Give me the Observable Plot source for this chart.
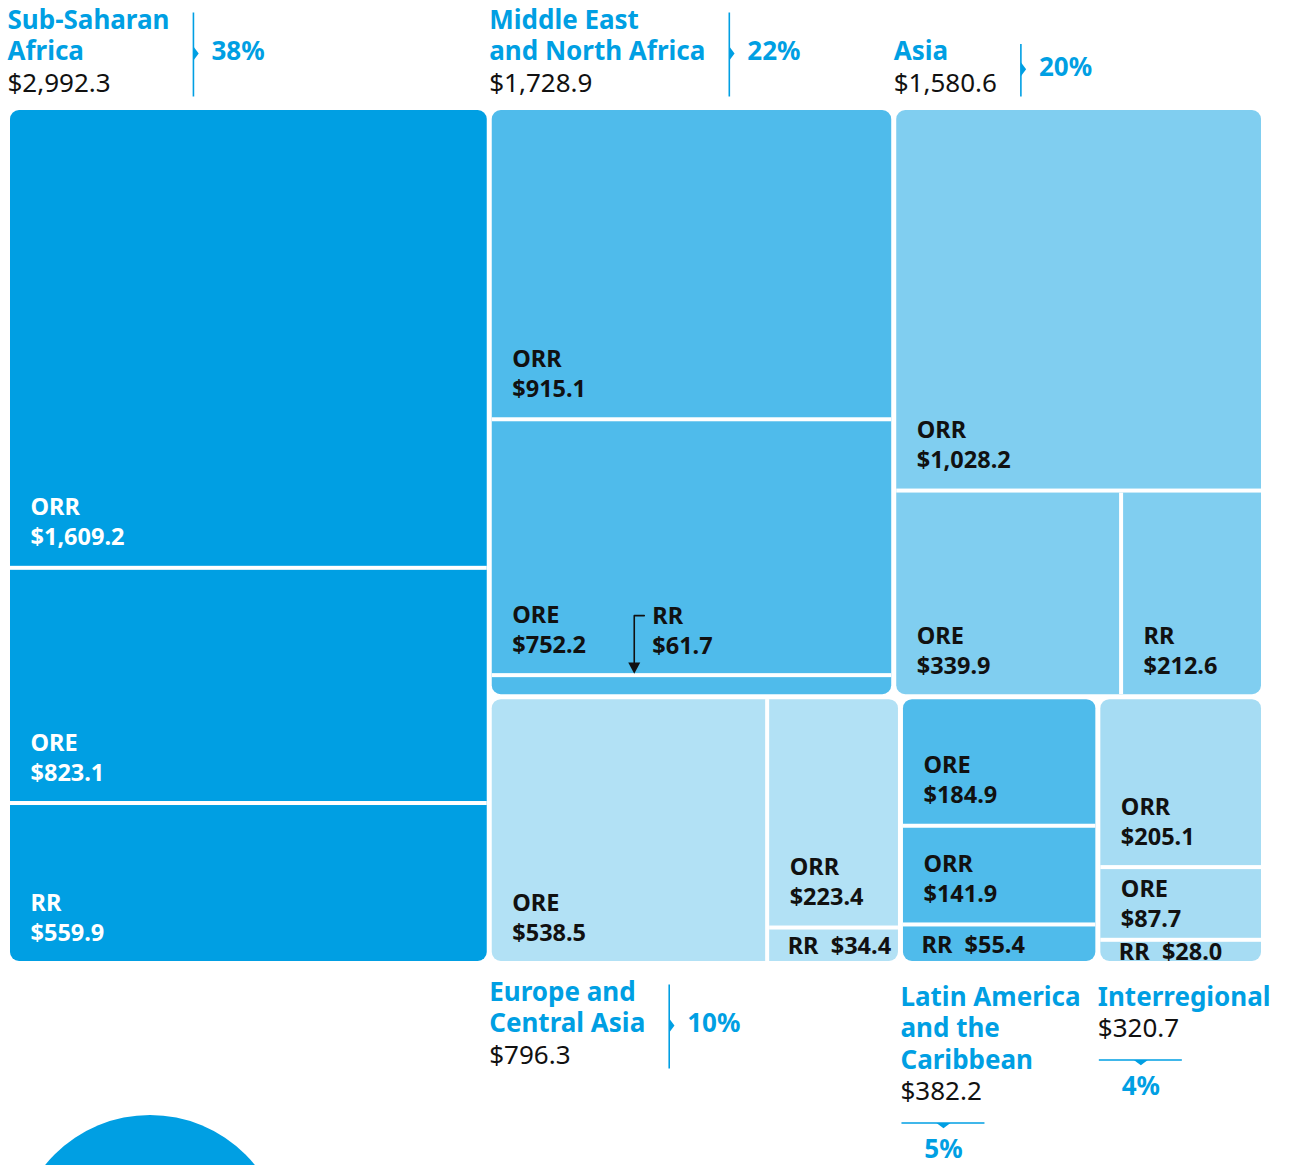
<!DOCTYPE html>
<html>
<head>
<meta charset="utf-8">
<script src="https://cdn.jsdelivr.net/npm/d3@7"></script>
<script src="https://cdn.jsdelivr.net/npm/@observablehq/plot@0.6"></script>
<style>
  html, body { margin: 0; padding: 0; background: #fff; overflow: hidden; }
  #chart { position: relative; width: 1290px; height: 1165px; overflow: hidden; }
  #chart svg { display: block; }
  .deco { position: absolute; left: 15px; top: 1115px; width: 270px; height: 270px; border-radius: 50%; background: #009fe3; z-index: 2; }
</style>
</head>
<body>
<div id="chart"></div>
<script>
// ---------- DATA ----------
const regions = ["Sub-Saharan Africa", "Middle East and North Africa", "Asia", "Europe and Central Asia", "Latin America and the Caribbean", "Interregional"];
const regionTitleLines = [["Sub-Saharan", "Africa"], ["Middle East", "and North Africa"], ["Asia"], ["Europe and", "Central Asia"], ["Latin America", "and the", "Caribbean"], ["Interregional"]];
const regionTotals = [2992.3, 1728.9, 1580.6, 796.3, 382.2, 320.7];
const subCategories = [["ORR", "ORE", "RR"], ["ORR", "ORE", "RR"], ["ORR", "ORE", "RR"], ["ORE", "ORR", "RR"], ["ORE", "ORR", "RR"], ["ORR", "ORE", "RR"]];
const subValues = [[1609.2, 823.1, 559.9], [915.1, 752.2, 61.7], [1028.2, 339.9, 212.6], [538.5, 223.4, 34.4], [184.9, 141.9, 55.4], [205.1, 87.7, 28.0]];

// ---------- STYLE / LAYOUT CONFIG ----------
const FONT = "'Noto Sans', 'Open Sans', sans-serif";
const BLUE = "#009fe3";
const palette = ["#009fe3", "#4fbbeb", "#80cef0", "#b2e1f5", "#4fbbeb", "#a6dcf3"];
const labelInk = ["#ffffff", "#111111", "#111111", "#111111", "#111111", "#111111"];
const tiling = ["slice", "slice", "squarify", "squarify", "slice", "slice"];
const headerSide = ["above", "above", "above", "below", "below", "below"];
const shareStyle = ["side", "side", "side", "side", "under", "under"];
const callouts = [[1, 2]];

const WIDTH = 1290, HEIGHT = 1165;
const LW = 1251, LH = 851, ML = 10, MT = 110;
const HEAD_FS = 26, HEAD_LH = 31.5, CELL_FS = 23.5, CELL_LH = 30, PCT_FS = 26;

const fmt = d3.format(",.1f");
const grand = d3.sum(regionTotals);

// ---------- LAYOUT (d3 treemap) ----------
const root = d3.hierarchy({
  children: regions.map((name, i) => ({
    name, i,
    children: subCategories[i].map((c, j) => ({name: c, value: subValues[i][j], i, j}))
  }))
}).sum(d => d.value);

const squarify = d3.treemapSquarify.ratio(1);
d3.treemap()
  .size([LW, LH])
  .paddingInner(n => n.depth === 0 ? 5 : 4)
  .tile((node, x0, y0, x1, y1) => {
    const t = node.depth === 1 && tiling[node.data.i] === "slice" ? d3.treemapSlice : squarify;
    t(node, x0, y0, x1, y1);
  })(root);

const regionNodes = root.children;
const cells = root.leaves();

// separators (white gaps inside each rounded region)
const gaps = [];
for (const c of cells) {
  const r = c.parent;
  if (c.x1 < r.x1 - 0.5) gaps.push({x1: c.x1, x2: c.x1 + 4, y1: c.y0, y2: c.y1});
  if (c.y1 < r.y1 - 0.5) gaps.push({x1: c.x0, x2: c.x1, y1: c.y1, y2: c.y1 + 4});
}

const isCallout = c => callouts.some(([i, j]) => c.data.i === i && c.data.j === j);

const cellLabels = [];
const calloutLabels = [];
for (const c of cells) {
  const h = c.y1 - c.y0;
  const ink = labelInk[c.data.i];
  const val = "$" + fmt(c.data.value);
  if (isCallout(c)) {
    calloutLabels.push({c, x: c.x0 + 160, y: c.y0 - 24, text: c.data.name + "\n" + val, ink});
  } else if (h < 40) {
    cellLabels.push({x: c.x0 + 18, y: (c.y0 + c.y1) / 2 + 8.5, text: c.data.name + "  " + val, ink});
  } else {
    cellLabels.push({x: c.x0 + 20, y: c.y1 - (h < 80 ? 11 : 21), text: c.data.name + "\n" + val, ink});
  }
}

// callout arrow geometry
const calloutPaths = [];
const calloutHeads = [];
for (const d of calloutLabels) {
  const c = d.c;
  const k = calloutPaths.length;
  calloutPaths.push({k, x: c.x0 + 152, y: c.y0 - 62});
  calloutPaths.push({k, x: c.x0 + 142, y: c.y0 - 62});
  calloutPaths.push({k, x: c.x0 + 142, y: c.y0 - 12});
  calloutHeads.push({x: c.x0 + 142, y: c.y0 - 9.5});
}

// header blocks
const ctx = document.createElement("canvas").getContext("2d");
function textWidth(s, weight, size) {
  ctx.font = `${weight} ${size}px 'Noto Sans'`;
  return ctx.measureText(s).width;
}
const headers = regionNodes.map(r => {
  const i = r.data.i;
  const lines = regionTitleLines[i];
  const n = lines.length;
  const valueText = "$" + fmt(regionTotals[i]);
  const tx = r.x0 - 3;
  let firstY, titleY, valueY;
  if (headerSide[i] === "above") {
    valueY = r.y0 - 19;
    titleY = valueY - HEAD_LH;
    firstY = titleY - (n - 1) * HEAD_LH;
  } else {
    firstY = r.y1 + (shareStyle[i] === "side" ? 39 : 44);
    titleY = firstY + (n - 1) * HEAD_LH;
    valueY = titleY + HEAD_LH;
  }
  const w = Math.max(...lines.map(s => textWidth(s, 700, HEAD_FS)), textWidth(valueText, 400, HEAD_FS));
  const pct = Math.round(regionTotals[i] / grand * 100) + "%";
  const h = {i, lines, valueText, tx, firstY, titleY, valueY, pct, style: shareStyle[i]};
  if (h.style === "side") {
    h.lx = tx + w + 24;
    h.ly1 = firstY - 16;
    h.ly2 = valueY + 5;
    h.mid = (h.ly1 + h.ly2) / 2 - 1;
  } else {
    h.ly = valueY + 23;
    h.lx1 = tx + 1;
    h.lx2 = tx + 84;
    h.cx = tx + 43;
    h.py = h.ly + 35;
  }
  return h;
});
const sideHeaders = headers.filter(h => h.style === "side");
const underHeaders = headers.filter(h => h.style === "under");

// custom triangle symbols
const triRight = {draw(c, size) { const r = Math.sqrt(size / Math.PI); c.moveTo(0, -r); c.lineTo(r * 0.75, 0); c.lineTo(0, r); c.closePath(); }};
const triDown = {draw(c, size) { const r = Math.sqrt(size / Math.PI); c.moveTo(-r, 0); c.lineTo(r, 0); c.lineTo(0, r * 0.75); c.closePath(); }};
const arrowHead = {draw(c, size) { const r = Math.sqrt(size / Math.PI); c.moveTo(-r, -r * 0.92); c.lineTo(r, -r * 0.92); c.lineTo(0, r * 0.92); c.closePath(); }};

// ---------- PLOT ----------
const chart = Plot.plot({
  width: WIDTH,
  height: HEIGHT,
  margin: 0,
  style: {fontFamily: FONT, background: "transparent"},
  x: {type: "linear", domain: [0, LW], range: [ML, ML + LW], axis: null},
  y: {type: "linear", domain: [0, LH], range: [MT, MT + LH], axis: null},
  color: {type: "identity"},
  marks: [
    Plot.rect(regionNodes, {x1: "x0", x2: "x1", y1: "y0", y2: "y1", fill: d => palette[d.data.i], rx: 9}),
    Plot.rect(gaps, {x1: "x1", x2: "x2", y1: "y1", y2: "y2", fill: "#ffffff"}),
    Plot.text(cellLabels, {x: "x", y: "y", text: "text", fill: "ink", textAnchor: "start", lineAnchor: "bottom", lineHeight: CELL_LH / CELL_FS, fontSize: CELL_FS, fontWeight: 700, fontFamily: FONT}),
    Plot.text(calloutLabels, {x: "x", y: "y", text: "text", fill: "ink", textAnchor: "start", lineAnchor: "bottom", lineHeight: CELL_LH / CELL_FS, fontSize: CELL_FS, fontWeight: 700, fontFamily: FONT}),
    Plot.line(calloutPaths, {x: "x", y: "y", z: "k", stroke: "#111", strokeWidth: 1.6, curve: "linear"}),
    Plot.dot(calloutHeads, {x: "x", y: "y", symbol: arrowHead, r: 6, fill: "#111", stroke: null}),
    // headers
    Plot.text(headers, {x: "tx", y: "titleY", text: d => d.lines.join("\n"), textAnchor: "start", lineAnchor: "bottom", lineHeight: HEAD_LH / HEAD_FS, fontSize: HEAD_FS, fontWeight: 700, fill: BLUE, fontFamily: FONT}),
    Plot.text(headers, {x: "tx", y: "valueY", text: "valueText", textAnchor: "start", lineAnchor: "bottom", fontSize: HEAD_FS, fontWeight: 400, fill: "#111", fontFamily: FONT}),
    // side dividers
    Plot.link(sideHeaders, {x1: "lx", x2: "lx", y1: "ly1", y2: "ly2", stroke: BLUE, strokeWidth: 1.6}),
    Plot.dot(sideHeaders, {x: "lx", y: "mid", symbol: triRight, r: 7, fill: BLUE, stroke: null}),
    Plot.text(sideHeaders, {x: d => d.lx + 18, y: d => d.mid - 2, text: "pct", textAnchor: "start", lineAnchor: "middle", fontSize: PCT_FS, fontWeight: 700, fill: BLUE, fontFamily: FONT}),
    // under dividers
    Plot.link(underHeaders, {x1: "lx1", x2: "lx2", y1: "ly", y2: "ly", stroke: BLUE, strokeWidth: 1.6}),
    Plot.dot(underHeaders, {x: "cx", y: "ly", symbol: triDown, r: 7, fill: BLUE, stroke: null}),
    Plot.text(underHeaders, {x: "cx", y: "py", text: "pct", textAnchor: "middle", lineAnchor: "bottom", fontSize: PCT_FS, fontWeight: 700, fill: BLUE, fontFamily: FONT})
  ]
});

const holder = document.getElementById("chart");
holder.appendChild(chart);
const deco = document.createElement("div");
deco.className = "deco";
holder.appendChild(deco);
</script>
</body>
</html>
